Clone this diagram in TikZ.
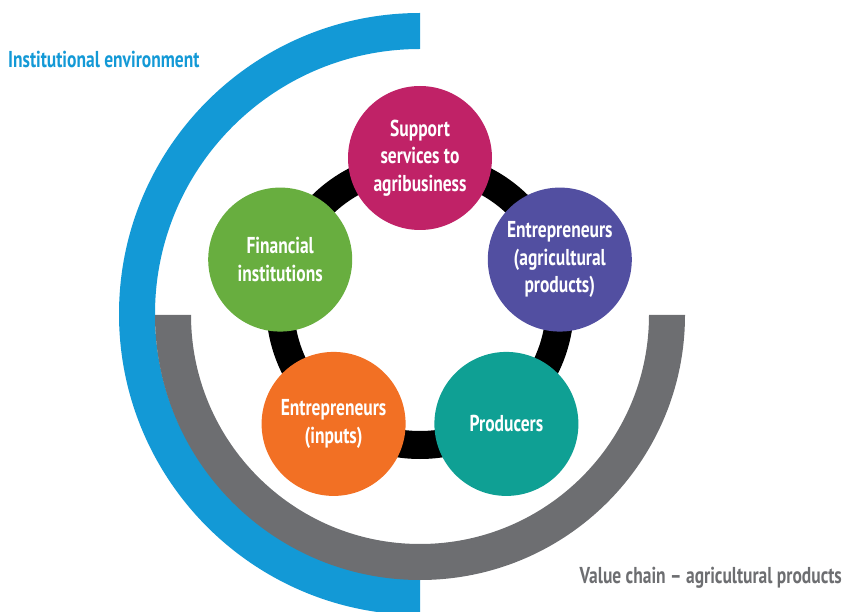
\documentclass[tikz,border=0pt]{standalone}
\usepackage{fontspec}
\setmainfont{PT Sans}[FakeStretch=0.76]
\definecolor{instblue}{HTML}{1399D6}
\definecolor{chaingray}{HTML}{6D6E71}
\definecolor{supmag}{HTML}{C02267}
\definecolor{agripurple}{HTML}{524FA1}
\definecolor{prodteal}{HTML}{0FA094}
\definecolor{inputorange}{HTML}{F27024}
\definecolor{fingreen}{HTML}{68AE3F}
\begin{document}
\begin{tikzpicture}[x=1pt,y=1pt,
  ball/.style={circle,minimum size=144pt,inner sep=0pt,text=white,align=center,
    font=\fontsize{23}{27.5}\selectfont\bfseries},
  ringlabel/.style={font=\fontsize{23}{27}\selectfont\bfseries,inner sep=0pt}]
  \useasboundingbox (0,0) rectangle (846,-612);
  \coordinate (ctr) at (420,-305);
  % внешние кольца
  \fill[instblue] (420,-13) arc[start angle=90,end angle=270,radius=301]
    -- ++(0,36) arc[start angle=270,end angle=90,radius=265] -- cycle;
  \fill[chaingray] (155,-315) arc[start angle=180,end angle=360,radius=265]
    -- ++(-36,0) arc[start angle=360,end angle=180,radius=229] -- cycle;
  % чёрное кольцо
  \draw[line width=28pt] (ctr) circle[radius=140];
  \node[ball,fill=supmag] (support) at ([shift={(90:147)}]ctr) {Support\\services to\\agribusiness};
  \node[ball,fill=agripurple] (agri) at ([shift={(18:147)}]ctr) {Entrepreneurs\\(agricultural\\products)};
  \node[ball,fill=prodteal] (prod) at ([shift={(-54:147)}]ctr) {Producers};
  \node[ball,fill=inputorange] (inputs) at ([shift={(-126:147)}]ctr) {Entrepreneurs\\(inputs)};
  \node[ball,fill=fingreen] (fin) at ([shift={(162:147)}]ctr) {Financial\\institutions};
  \node[ringlabel,text=instblue,anchor=base west] (inst) at (8,-68) {Institutional environment};
  \node[ringlabel,text=chaingray,anchor=base east] (chain) at (842,-583) {Value chain -- agricultural products};
\end{tikzpicture}
\end{document}
